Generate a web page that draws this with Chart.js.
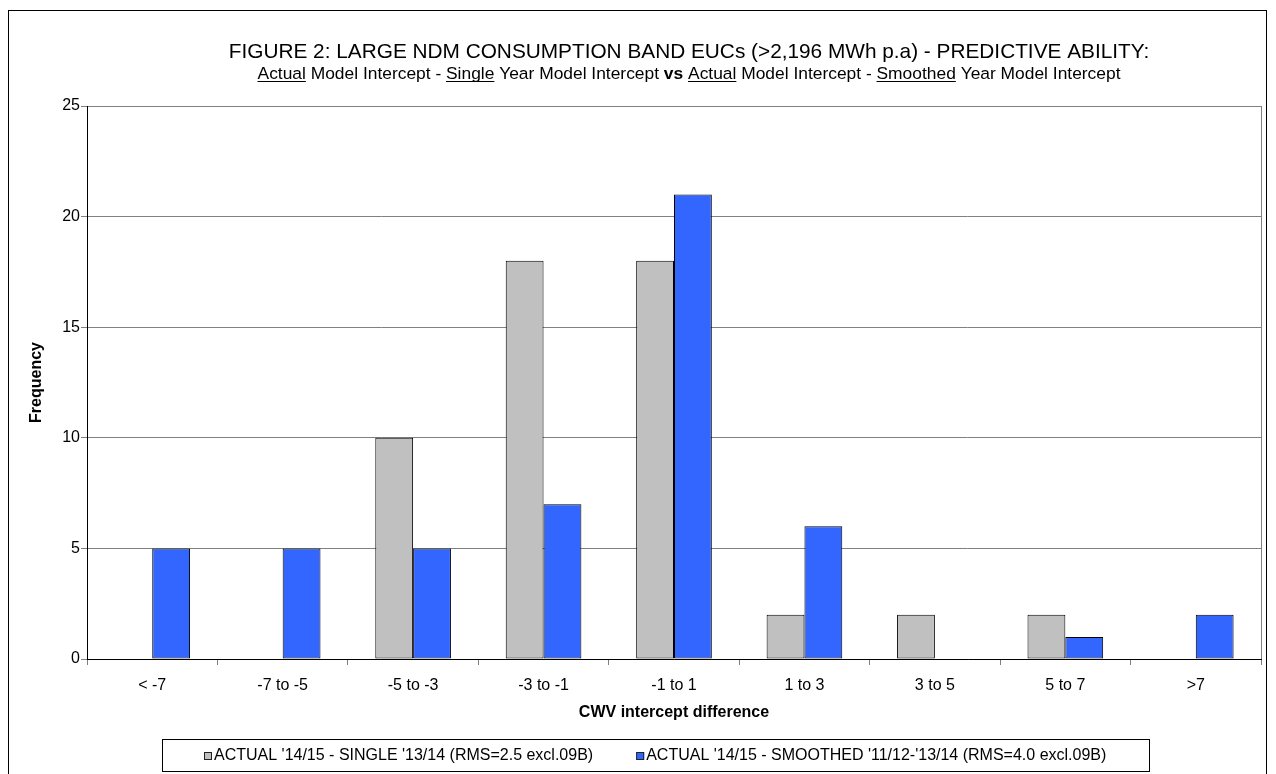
<!DOCTYPE html>
<html>
<head>
<meta charset="utf-8">
<title>Large NDM consumption band EUCs - predictive ability</title>
<script src="https://cdn.jsdelivr.net/npm/chart.js@4.4.1/dist/chart.umd.min.js"></script>
<style>
  html, body { margin: 0; padding: 0; background: #fff; }
  #wrap { width: 1276px; height: 774px; position: relative; }
</style>
</head>
<body>
<div id="wrap"><canvas id="chart" width="1276" height="774"></canvas></div>
<script>
// Histogram bins of the CWV intercept difference
const categories = ['< -7', '-7 to -5', '-5 to -3', '-3 to -1', '-1 to 1', '1 to 3', '3 to 5', '5 to 7', '>7'];

// Frequencies per bin
const singleYear = [0, 0, 10, 18, 18, 2, 2, 2, 0];
const smoothedYear = [5, 5, 5, 7, 21, 6, 0, 1, 2];

const seriesLabels = [
  "ACTUAL '14/15 - SINGLE '13/14 (RMS=2.5 excl.09B)",
  "ACTUAL '14/15 - SMOOTHED '11/12-'13/14 (RMS=4.0 excl.09B)"
];

// Frequency axis ticks
const yTicks = [0, 5, 10, 15, 20, 25];

const titleLine1 = 'FIGURE 2: LARGE NDM CONSUMPTION BAND EUCs (>2,196 MWh p.a) - PREDICTIVE ABILITY:';
const titleLine2 = [
  { text: 'Actual', underline: true },
  { text: ' Model Intercept - ' },
  { text: 'Single', underline: true },
  { text: ' Year Model Intercept ' },
  { text: 'vs', bold: true },
  { text: ' ' },
  { text: 'Actual', underline: true },
  { text: ' Model Intercept - ' },
  { text: 'Smoothed', underline: true },
  { text: ' Year Model Intercept' }
];
const xAxisTitle = 'CWV intercept difference';
const yAxisTitle = 'Frequency';

const FONT = "'Liberation Sans', Arial, Helvetica, sans-serif";
const GREY = '#C0C0C0';
const BLUE = '#3366FF';
const GRID = '#808080';

// Outer frame and plot-area frame, drawn underneath everything else
const framePlugin = {
  id: 'frame',
  beforeDraw(chart) {
    const { ctx, chartArea: a } = chart;
    ctx.save();
    ctx.fillStyle = '#fff';
    ctx.fillRect(0, 0, chart.width, chart.height);
    ctx.strokeStyle = '#000';
    ctx.lineWidth = 1;
    ctx.strokeRect(8.5, 10.5, 1258, 800);
    ctx.strokeStyle = GRID;
    ctx.strokeRect(Math.round(a.left) + 0.5, Math.round(a.top) + 0.5,
                   Math.round(a.right - a.left), Math.round(a.bottom - a.top));
    ctx.restore();
  }
};

// Two-line heading with underlined and bold words on the second line
const headingPlugin = {
  id: 'heading',
  afterDraw(chart) {
    const { ctx } = chart;
    const cx = 689;
    ctx.save();
    ctx.fillStyle = '#000';
    ctx.textBaseline = 'alphabetic';
    ctx.textAlign = 'center';
    ctx.font = '20.8px ' + FONT;
    ctx.fillText(titleLine1, cx, 58);

    const size = 17.4;
    const fontOf = s => (s.bold ? 'bold ' : '') + size + 'px ' + FONT;
    let total = 0;
    const widths = titleLine2.map(s => {
      ctx.font = fontOf(s);
      const w = ctx.measureText(s.text).width;
      total += w;
      return w;
    });
    let x = cx - total / 2;
    const y = 79;
    ctx.textAlign = 'left';
    ctx.strokeStyle = '#000';
    ctx.lineWidth = 1;
    titleLine2.forEach((s, i) => {
      ctx.font = fontOf(s);
      ctx.fillText(s.text, x, y);
      if (s.underline) {
        ctx.beginPath();
        ctx.moveTo(x, y + 2.5);
        ctx.lineTo(x + widths[i], y + 2.5);
        ctx.stroke();
      }
      x += widths[i];
    });
    ctx.restore();
  }
};

// Boxed legend below the axis title
const legendPlugin = {
  id: 'boxLegend',
  afterDraw(chart) {
    const { ctx } = chart;
    const box = { left: 162, top: 739, right: 1149, bottom: 771 };
    ctx.save();
    ctx.fillStyle = '#fff';
    ctx.fillRect(box.left, box.top, box.right - box.left, box.bottom - box.top);
    ctx.strokeStyle = '#000';
    ctx.lineWidth = 1;
    ctx.strokeRect(box.left + 0.5, box.top + 0.5, box.right - box.left, box.bottom - box.top);

    ctx.font = '16px ' + FONT;
    const sq = 8, gap = 2, between = 43;
    const items = chart.data.datasets.map(ds => ({
      label: ds.label, color: ds.backgroundColor, w: ctx.measureText(ds.label).width
    }));
    let total = 0;
    items.forEach((it, i) => { total += sq + gap + it.w + (i ? between : 0); });
    let x = Math.round((box.left + box.right) / 2 - total / 2);
    const cy = (box.top + box.bottom) / 2 + 0.5;
    ctx.textBaseline = 'middle';
    ctx.textAlign = 'left';
    items.forEach((it, i) => {
      if (i) x += between;
      ctx.fillStyle = it.color;
      ctx.fillRect(x, Math.round(cy - sq / 2), sq, sq);
      ctx.strokeStyle = '#222';
      ctx.strokeRect(x + 0.5, Math.round(cy - sq / 2) + 0.5, sq - 1, sq - 1);
      ctx.fillStyle = '#000';
      ctx.fillText(it.label, x + sq + gap, cy);
      x += sq + gap + it.w;
    });
    ctx.restore();
  }
};

new Chart(document.getElementById('chart'), {
  type: 'bar',
  data: {
    labels: categories,
    datasets: [
      {
        label: seriesLabels[0],
        data: singleYear,
        backgroundColor: GREY,
        borderColor: '#000',
        borderWidth: 1,
        borderSkipped: false
      },
      {
        label: seriesLabels[1],
        data: smoothedYear,
        backgroundColor: BLUE,
        borderColor: '#000',
        borderWidth: 1,
        borderSkipped: false
      }
    ]
  },
  options: {
    responsive: false,
    animation: false,
    events: [],
    layout: { padding: { top: 106, right: 15, bottom: 45, left: 0 } },
    datasets: { bar: { categoryPercentage: 0.58, barPercentage: 1.0 } },
    plugins: {
      legend: { display: false },
      title: { display: false },
      tooltip: { enabled: false }
    },
    scales: {
      x: {
        grid: {
          display: true,
          offset: true,
          drawOnChartArea: false,
          drawTicks: true,
          tickLength: 6,
          color: GRID
        },
        border: { display: true, color: '#000', width: 1 },
        ticks: {
          color: '#000',
          font: { family: FONT, size: 16 },
          padding: 11,
          maxRotation: 0,
          autoSkip: false
        },
        title: {
          display: true,
          text: xAxisTitle,
          color: '#000',
          font: { family: FONT, size: 16, weight: 'bold' },
          padding: { top: 0, bottom: 7 }
        },
        afterFit(scale) { scale.height = 70; }
      },
      y: {
        min: yTicks[0],
        max: yTicks[yTicks.length - 1],
        grid: {
          color: GRID,
          drawTicks: true,
          tickLength: 6
        },
        border: { display: true, color: '#000', width: 1 },
        ticks: {
          stepSize: yTicks[1] - yTicks[0],
          color: '#000',
          font: { family: FONT, size: 16 },
          padding: 1
        },
        title: {
          display: true,
          text: yAxisTitle,
          color: '#000',
          font: { family: FONT, size: 16, weight: 'bold' },
          padding: { top: 27, bottom: 0 }
        },
        afterFit(scale) { scale.width = 87; }
      }
    }
  },
  plugins: [framePlugin, headingPlugin, legendPlugin]
});
</script>
</body>
</html>
